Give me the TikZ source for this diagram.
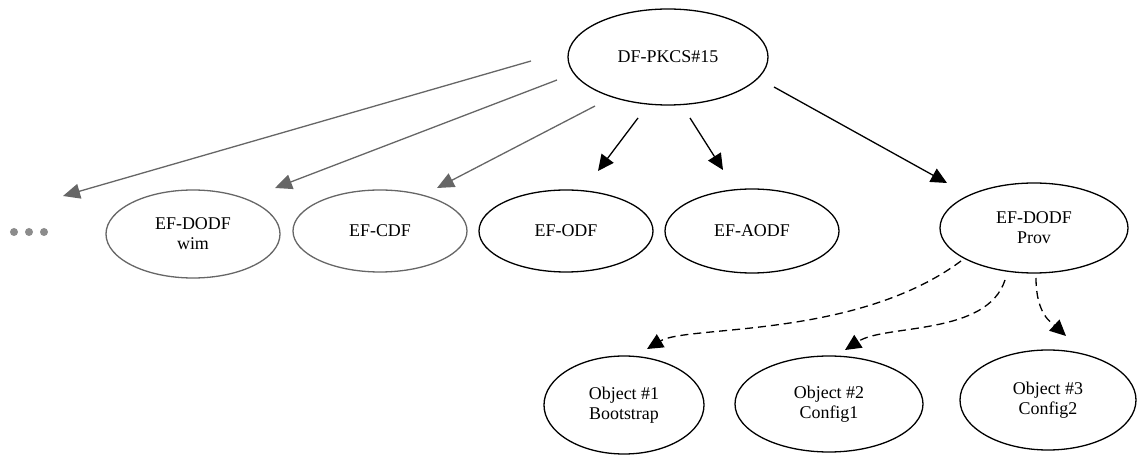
\documentclass[tikz,border=0pt]{standalone}
\usepackage{fontspec}
\setmainfont{Liberation Serif}
\usetikzlibrary{arrows.meta,shapes.geometric}
\definecolor{edgegray}{RGB}{102,102,102}
\definecolor{dotgray}{RGB}{140,140,140}
\begin{document}
\begin{tikzpicture}[x=1bp,y=-1bp,
  ell/.style={ellipse, draw, line width=1.3bp, inner sep=0pt, align=center,
    font=\fontsize{18}{20}\selectfont},
  grayell/.style={ell, draw=edgegray},
  blackarrow/.style={line width=1.3bp, -{Triangle[length=16bp,width=15bp]}},
  grayarrow/.style={line width=1.3bp, draw=edgegray, -{Triangle[length=17bp,width=15bp]}, edgegray},
  dasharrow/.style={line width=1.3bp, dash pattern=on 8bp off 5bp, -{Triangle[length=16bp,width=15bp]}}]
\useasboundingbox (0,0) rectangle (1138,457);

% nodes
\node[ell, minimum width=200bp, minimum height=96bp] (top) at (668,57) {DF-PKCS\#15};
\node[grayell, minimum width=174bp, minimum height=88bp] (wim) at (193,234) {EF-DODF\\wim};
\node[grayell, minimum width=174bp, minimum height=82bp] (cdf) at (380,231) {EF-CDF};
\node[ell, minimum width=174bp, minimum height=82bp] (odf) at (566,231) {EF-ODF};
\node[ell, minimum width=174bp, minimum height=84bp] (aodf) at (752,231) {EF-AODF};
\node[ell, minimum width=188bp, minimum height=90bp] (prov) at (1034,228) {EF-DODF\\Prov};
\node[ell, minimum width=160bp, minimum height=98bp] (o1) at (624,405) {Object \#1\\Bootstrap};
\node[ell, minimum width=188bp, minimum height=96bp] (o2) at (829,404) {Object \#2\\Config1};
\node[ell, minimum width=176bp, minimum height=100bp] (o3) at (1048,400) {Object \#3\\Config2};
\node[minimum width=40bp, minimum height=10bp, inner sep=0pt] (dots) at (29,232) {};
\fill[dotgray] ([xshift=-15bp]dots.center) circle (4bp);
\fill[dotgray] (dots.center) circle (4bp);
\fill[dotgray] ([xshift=15bp]dots.center) circle (4bp);

% connector end points, placed relative to their nodes
\coordinate (g1s) at ([shift={(-137,4)}]top.center);
\coordinate (g1e) at ([shift={(34,-36)}]dots.center);
\coordinate (g2s) at ([shift={(-111,23)}]top.center);
\coordinate (g2e) at ([shift={(82,-46)}]wim.center);
\coordinate (g3s) at ([shift={(-73,49)}]top.center);
\coordinate (g3e) at ([shift={(57,-43)}]cdf.center);
\coordinate (b1s) at ([shift={(-30,61)}]top.center);
\coordinate (b1e) at ([shift={(32,-60)}]odf.center);
\coordinate (b2s) at ([shift={(22,61)}]top.center);
\coordinate (b2e) at ([shift={(-29,-61)}]aodf.center);
\coordinate (b3s) at ([shift={(106,30)}]top.center);
\coordinate (b3e) at ([shift={(-87,-45)}]prov.center);
\coordinate (d1s) at ([shift={(-73,33)}]prov.center);
\coordinate (d1e) at ([shift={(23,-56)}]o1.center);
\coordinate (d2s) at ([shift={(-29,52)}]prov.center);
\coordinate (d2e) at ([shift={(16,-54)}]o2.center);
\coordinate (d3s) at ([shift={(2,50)}]prov.center);
\coordinate (d3e) at ([shift={(18,-64)}]o3.center);

% connectors
\draw[grayarrow] (g1s) -- (g1e);
\draw[grayarrow] (g2s) -- (g2e);
\draw[grayarrow] (g3s) -- (g3e);
\draw[blackarrow] (b1s) -- (b1e);
\draw[blackarrow] (b2s) -- (b2e);
\draw[blackarrow] (b3s) -- (b3e);
\draw[dasharrow] (d1s) .. controls +(-105,78) and +(40,-24) .. (d1e);
\draw[dasharrow] (d2s) .. controls +(-18,56) and +(40,-26) .. (d2e);
\draw[dasharrow] (d3s) .. controls +(0,37) and +(-14,-13) .. (d3e);
\end{tikzpicture}
\end{document}
